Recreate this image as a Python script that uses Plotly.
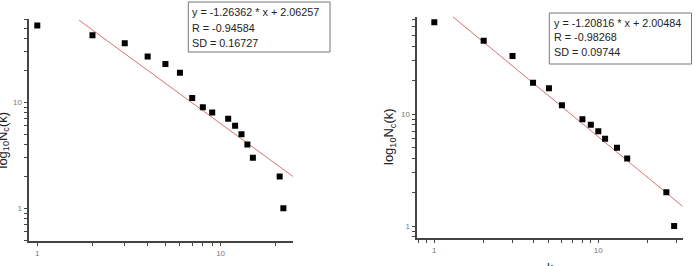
import numpy as np
import plotly.graph_objects as go

# ---- data ----
k_a = [1, 2, 3, 4, 5, 6, 7, 8, 9, 11, 12, 13, 14, 15, 21, 22]
n_a = [53, 43, 36, 27, 23, 19, 11, 9, 8, 7, 6, 5, 4, 3, 2, 1]
k_b = [1, 2, 3, 4, 5, 6, 8, 9, 10, 11, 13, 15, 26, 29]
n_b = [66, 45, 33, 19, 17, 12, 9, 8, 7, 6, 5, 4, 2, 1]

fit_a = {"slope": -1.26362, "intercept": 2.06257, "R": -0.94584, "SD": 0.16727}
fit_b = {"slope": -1.20816, "intercept": 2.00484, "R": -0.98268, "SD": 0.09744}
fit_a_k = [1.69, 24.9]
fit_b_k = [1.29, 32.7]

x_major = [1, 10]
x_minor = [0.8, 0.9, 2, 3, 4, 5, 6, 7, 8, 9, 20, 30]
y_major = [1, 10]
y_minor = [0.5, 0.6, 0.7, 0.8, 0.9, 2, 3, 4, 5, 6, 7, 8, 9, 20, 30, 40, 50, 60, 70]

W, H = 695, 266


def px(x):
    return x / W


def py(y):
    return 1 - y / H


def fit_line(fit, ks):
    ks = np.geomspace(ks[0], ks[1], 50)
    return ks, 10 ** (fit["slope"] * np.log10(ks) + fit["intercept"])


def tick_arrays(major, minor):
    vals = sorted(major + minor)
    text = [str(v) if v in major else "" for v in vals]
    return vals, text


fig = go.Figure()

for i, (k, n, fit, fk) in enumerate([(k_a, n_a, fit_a, fit_a_k), (k_b, n_b, fit_b, fit_b_k)]):
    s = "" if i == 0 else "2"
    lx, ly = fit_line(fit, fk)
    fig.add_trace(go.Scatter(x=lx, y=ly, mode="lines", xaxis="x" + s, yaxis="y" + s,
                             line=dict(color="#d87070", width=1), showlegend=False))
    fig.add_trace(go.Scatter(x=k, y=n, mode="markers", xaxis="x" + s, yaxis="y" + s,
                             marker=dict(symbol="square", size=6, color="black"),
                             showlegend=False))

axis_common = dict(
    type="log", showgrid=False, zeroline=False,
    showline=True, linecolor="#444", linewidth=1.5,
    ticks="outside", ticklen=4, tickcolor="#444", tickwidth=1,
    tickfont=dict(family="Arial", size=8, color="#777"),
)

panels = [
    # x domain px, x range, y domain px, y range
    ((29.3, 293.3), [-0.0436, 1.3966], (240.7, 19.0), [-0.3057, 1.786]),
    ((417.3, 682.7), [-0.1037, 1.5146], (237.7, 16.7), [-0.1045, 1.869]),
]

layout = dict(width=W, height=H, margin=dict(l=0, r=0, t=0, b=0),
              paper_bgcolor="white", plot_bgcolor="white")

xv, xt = tick_arrays(x_major, x_minor)
yv, yt = tick_arrays(y_major, y_minor)
for i, (xd, xr, yd, yr) in enumerate(panels):
    s = "" if i == 0 else "2"
    layout["xaxis" + s] = dict(axis_common, domain=[px(xd[0]), px(xd[1])], range=xr,
                               anchor="y" + s, tickmode="array", tickvals=xv, ticktext=xt)
    layout["yaxis" + s] = dict(axis_common, domain=[py(yd[0]), py(yd[1])], range=yr,
                               anchor="x" + s, tickmode="array", tickvals=yv, ticktext=yt)

fig.update_layout(**layout)

# stats boxes
boxes = [
    (fit_a, 188.3, 330.0, 2.0, 52.0, 190.5, [12.5, 27.5, 42.5]),
    (fit_b, 549.3, 691.5, 13.0, 64.0, 551.5, [22.5, 37.0, 51.5]),
]
for fit, x0, x1, y0, y1, tx, lines_y in boxes:
    fig.add_shape(type="rect", xref="paper", yref="paper",
                  x0=px(x0), x1=px(x1), y0=py(y1), y1=py(y0),
                  line=dict(color="#777", width=1), fillcolor="white")
    texts = [
        f"y = {fit['slope']:.5f} * x + {fit['intercept']:.5f}",
        f"R = {fit['R']:.5f}",
        f"SD = {fit['SD']:.5f}",
    ]
    for t, ly in zip(texts, lines_y):
        fig.add_annotation(text=t, xref="paper", yref="paper", x=px(tx), y=py(ly),
                           xanchor="left", yanchor="middle", showarrow=False,
                           font=dict(family="Arial", size=10.8, color="#222"))

# axis titles
ytitle = "log<sub>10</sub>N<sub>c</sub>(k)"
for cx, cy in [(2.5, 140), (389, 137)]:
    fig.add_annotation(text=ytitle, xref="paper", yref="paper", x=px(cx), y=py(cy),
                       xanchor="center", yanchor="middle", textangle=-90, showarrow=False,
                       font=dict(family="Arial", size=13, color="#222"))
for cx, ty in [(160, 263), (550, 259)]:
    fig.add_annotation(text="k", xref="paper", yref="paper", x=px(cx), y=py(ty),
                       xanchor="center", yanchor="top", showarrow=False,
                       font=dict(family="Arial", size=12, color="#222"))

fig.write_html("out.html")
